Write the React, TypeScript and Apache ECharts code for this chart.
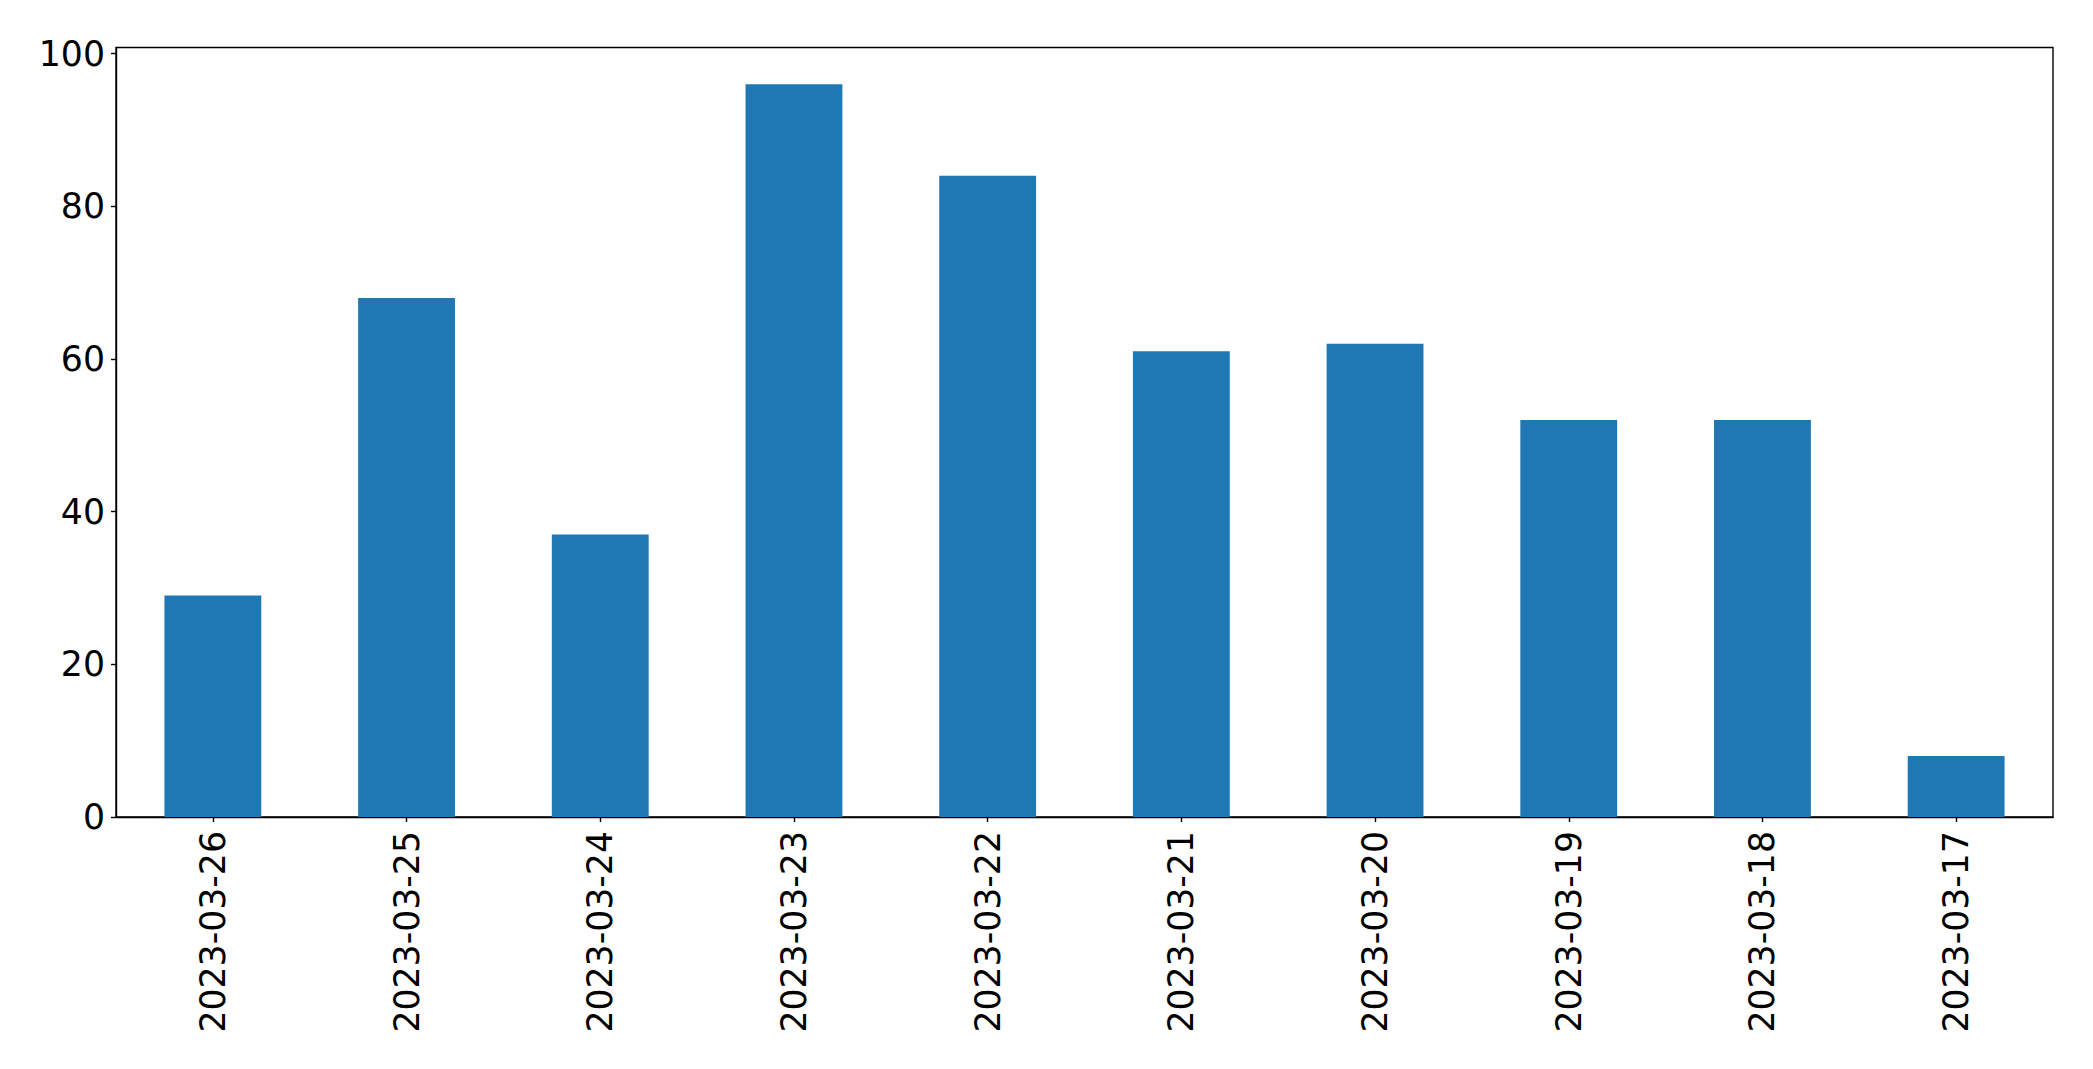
import React, { useEffect, useRef } from "react";
import * as echarts from "echarts";

const categories = [
  "2023-03-26",
  "2023-03-25",
  "2023-03-24",
  "2023-03-23",
  "2023-03-22",
  "2023-03-21",
  "2023-03-20",
  "2023-03-19",
  "2023-03-18",
  "2023-03-17",
];
const values = [29, 68, 37, 96, 84, 61, 62, 52, 52, 8];
const yTicks = [0, 20, 40, 60, 80, 100];

export default function App() {
  const ref = useRef<HTMLDivElement>(null);
  useEffect(() => {
    if (!ref.current) return;
    const chart = echarts.init(ref.current, null, { renderer: "svg" });
    chart.setOption({
      animation: false,
      backgroundColor: "#ffffff",
      textStyle: { fontFamily: "DejaVu Sans" },
      grid: {
        left: 116,
        right: 40,
        top: 47.5,
        bottom: 252,
        show: true,
        borderColor: "#000000",
        borderWidth: 1.4,
        backgroundColor: "transparent",
      },
      xAxis: {
        type: "category",
        data: categories,
        boundaryGap: true,
        axisLine: { show: true, lineStyle: { color: "#000", width: 1.4 } },
        axisTick: {
          show: true,
          alignWithLabel: true,
          length: 5,
          lineStyle: { color: "#000", width: 1.4 },
        },
        axisLabel: {
          rotate: 90,
          fontSize: 34.7,
          color: "#000",
          margin: 14,
          fontFamily: "DejaVu Sans",
        },
        splitLine: { show: false },
      },
      yAxis: {
        type: "value",
        min: 0,
        max: 100.8,
        interval: 20,
        axisLine: { show: true, lineStyle: { color: "#000", width: 1.4 } },
        axisTick: { show: true, length: 5, lineStyle: { color: "#000", width: 1.4 } },
        axisLabel: {
          fontSize: 34.7,
          color: "#000",
          margin: 11,
          showMaxLabel: false,
          fontFamily: "DejaVu Sans",
          formatter: (v: number) => (yTicks.includes(v) ? String(v) : ""),
        },
        splitLine: { show: false },
      },
      series: [
        {
          type: "bar",
          data: values,
          barWidth: "50%",
          itemStyle: { color: "#1f77b4" },
        },
      ],
    });
    return () => chart.dispose();
  }, []);
  return (
    <div
      ref={ref}
      style={{ position: "fixed", left: 0, top: 0, width: 2093, height: 1069, background: "#fff" }}
    />
  );
}
